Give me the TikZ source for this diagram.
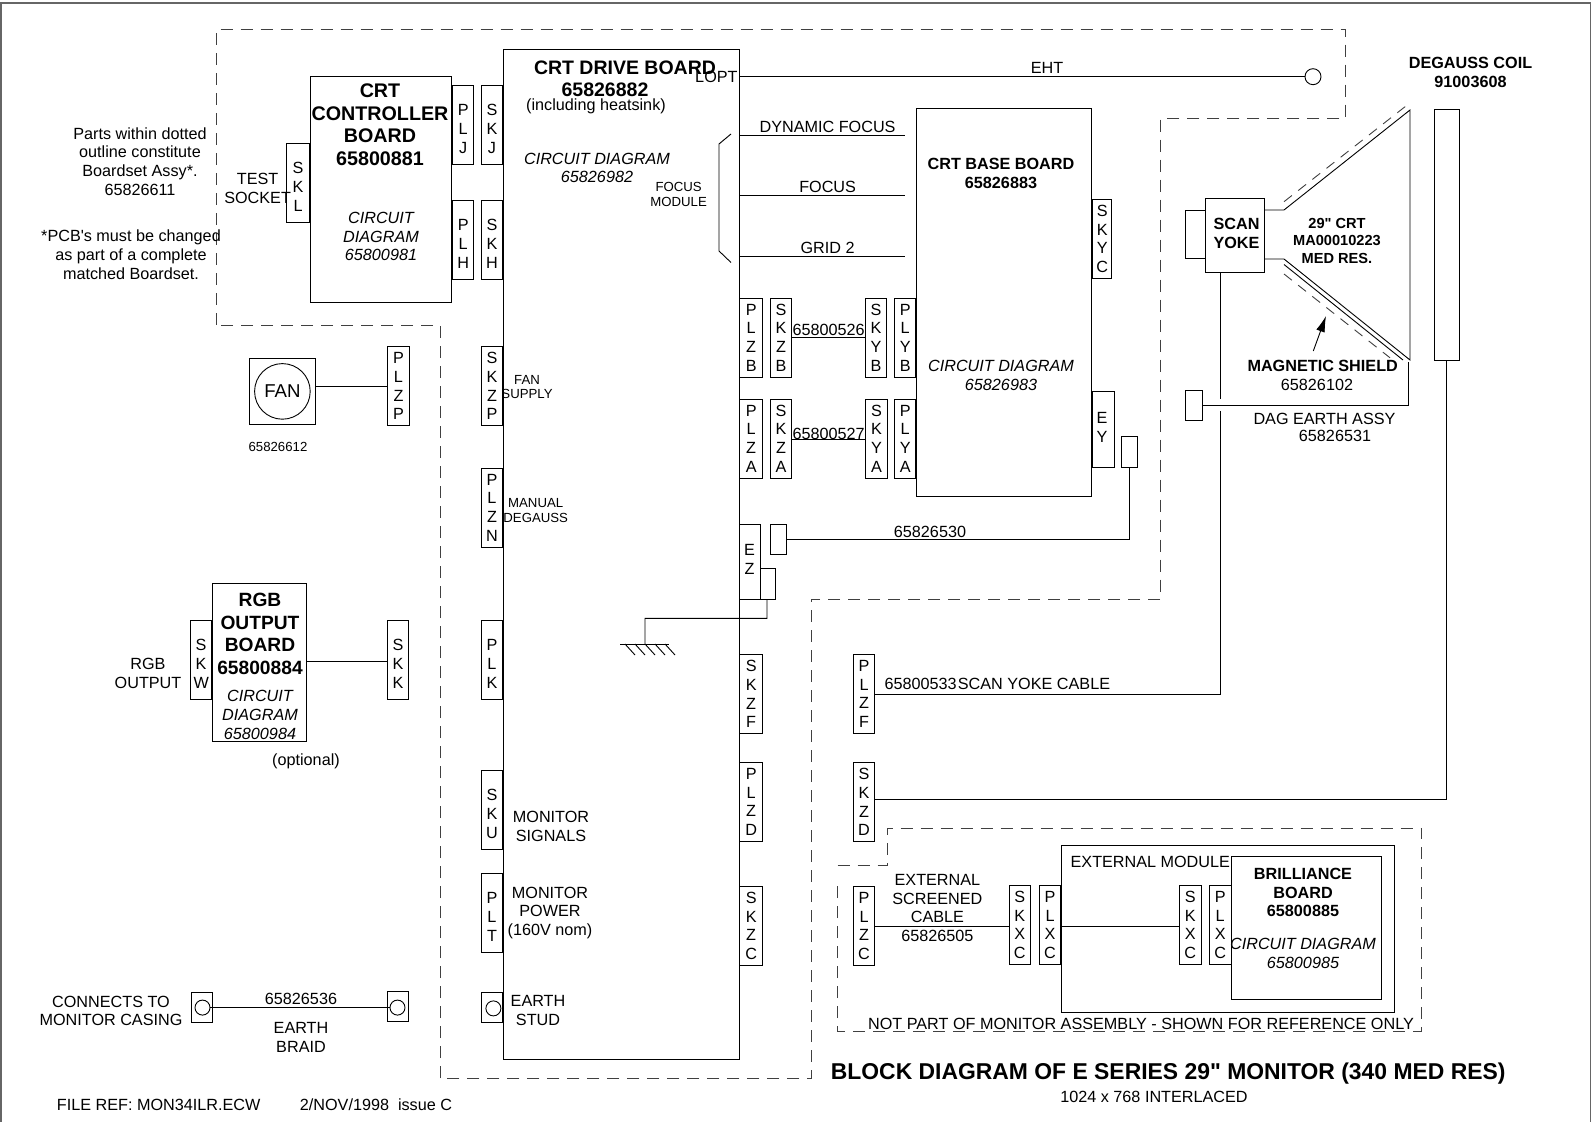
\documentclass[tikz,border=0pt]{standalone}
\usepackage{fontspec}
\setmainfont{Liberation Sans}[Ligatures=TeXOff]
\usetikzlibrary{arrows.meta}

\definecolor{outlinegrey}{gray}{0.25}
\definecolor{framegrey}{gray}{0.4}

\tikzset{
    board/.style={draw, inner sep=0pt},
    pin/.style={draw, inner sep=0pt, minimum width=10.75pt, minimum height=39.5pt,
        align=center, font=\fontsize{8.1}{9.35}\selectfont},
    onleft/.style={anchor=east},
    onright/.style={anchor=west, minimum width=11.25pt},
    stud/.style={draw, inner sep=0pt, minimum width=10.75pt, minimum height=15pt},
    hole/.style={draw, circle, inner sep=0pt, minimum size=7.5pt},
    txt/.style={inner sep=0pt, align=center, font=\fontsize{8.1}{9.35}\selectfont},
    txtit/.style={inner sep=0pt, align=center, font=\fontsize{8.1}{9.35}\itshape\selectfont},
    txtsm/.style={inner sep=0pt, align=center, font=\fontsize{6.6}{7.4}\selectfont},
    head/.style={inner sep=0pt, align=center, font=\fontsize{9.75}{11.25}\bfseries\selectfont},
    subhead/.style={inner sep=0pt, align=center, font=\fontsize{8.1}{9.35}\bfseries\selectfont},
    outline/.style={draw=outlinegrey, dash pattern=on 6pt off 4pt, line width=0.45pt}
}

\begin{document}
\begin{tikzpicture}[x=0.5pt, y=-0.5pt, line width=0.45pt]
    \useasboundingbox (0,0) rectangle (1592,1122);
    \draw[framegrey, line width=0.8pt] (1,1122) -- (1,3) -- (1590.5,3) -- (1590.5,1122);

    % dotted outlines
    \draw[outline] (216,325) -- (216,29.6) -- (1345.5,29.6) -- (1345.5,118.6) -- (1160.5,118.6)
        -- (1160.5,599.4) -- (811,599.4) -- (811,1078.6) -- (440,1078.6) -- (440,325) -- cycle;
    \draw[outline] (837.5,865) -- (887.5,865) -- (887.5,828) -- (1421,828) -- (1421,1031) -- (837.5,1031) -- (837.5,880);

    % boards
    \node[board, minimum width=117.7pt, minimum height=505pt] (drive) at (621.3,554) {};
    \node[board, minimum width=70.5pt, minimum height=112.75pt] (ctrl) at (381,189.25) {};
    \node[board, minimum width=87.5pt, minimum height=194.15pt] (base) at (1004.3,302.45) {};
    \node[board, minimum width=46.9pt, minimum height=79pt] (rgb) at (259.7,662.7) {};
    \node[board, minimum width=166.4pt, minimum height=83.9pt] (extmod) at (1228.1,928.9) {};
    \node[board, minimum width=75pt, minimum height=71.5pt] (bril) at (1306.85,927.5) {};
    \node[board, minimum width=29.5pt, minimum height=37.4pt] (yoke) at (1234.5,235.4) {};
    \node[board, minimum width=12.5pt, minimum height=125.25pt] (coil) at (1446.5,234.75) {};
    \node[board, minimum width=32.75pt, minimum height=33pt] (fanbox) at (282.25,391) {};
    \node[draw, circle, inner sep=0pt, minimum size=27.8pt, font=\fontsize{9.3}{11}\selectfont] (fan) at (282.4,391.4) {FAN};

    % connectors on the boards
    \node[pin, onleft, minimum width=11.5pt] (SKL) at (ctrl.west |- 0,183) {~\\S\\K\\L};
    \node[pin, anchor=west] (PLJ) at (ctrl.east |- 0,125.1) {~\\P\\L\\J};
    \node[pin, onleft] (SKJ) at (drive.west |- 0,125.1) {~\\S\\K\\J};
    \node[pin, anchor=west] (PLH) at (ctrl.east |- 0,240) {~\\P\\L\\H};
    \node[pin, onleft] (SKH) at (drive.west |- 0,240) {~\\S\\K\\H};
    \node[pin] (PLZP) at (398.5,386.2) {P\\L\\Z\\P};
    \node[pin, onleft] (SKZP) at (drive.west |- 0,386.2) {S\\K\\Z\\P};
    \node[pin, onleft] (PLZN) at (drive.west |- 0,507.5) {P\\L\\Z\\N};
    \node[pin, onleft] (SKW) at (rgb.west |- 0,660) {~\\S\\K\\W};
    \node[pin] (SKK) at (398,660) {~\\S\\K\\K};
    \node[pin, onleft] (PLK) at (drive.west |- 0,660) {~\\P\\L\\K};
    \node[pin, onleft] (SKU) at (drive.west |- 0,810.3) {~\\S\\K\\U};
    \node[pin, onleft] (PLT) at (drive.west |- 0,913) {~\\P\\L\\T};
    \node[pin, onright] (PLZB) at (drive.east |- 0,337.5) {P\\L\\Z\\B};
    \node[pin] (SKZB) at (781,337.5) {S\\K\\Z\\B};
    \node[pin, onright] (PLZA) at (drive.east |- 0,438.5) {P\\L\\Z\\A};
    \node[pin] (SKZA) at (781,438.5) {S\\K\\Z\\A};
    \node[pin] (SKYB) at (876,337.5) {S\\K\\Y\\B};
    \node[pin, onleft] (PLYB) at (base.west |- 0,337.5) {P\\L\\Y\\B};
    \node[pin] (SKYA) at (876.5,438.5) {S\\K\\Y\\A};
    \node[pin, onleft] (PLYA) at (base.west |- 0,438.5) {P\\L\\Y\\A};
    \node[pin, anchor=west, minimum width=9.6pt] (SKYC) at (base.east |- 0,239) {S\\K\\Y\\C};
    \node[pin, anchor=west, minimum height=38pt] (EY) at (base.east |- 0,429.4) {};
    \node[pin, anchor=west, minimum width=10.5pt, minimum height=37.5pt] (EZ) at (drive.east |- 0,561.5) {};
    \node[pin, onright] (SKZF) at (drive.east |- 0,694) {S\\K\\Z\\F};
    \node[pin, onright] (PLZD) at (drive.east |- 0,802) {P\\L\\Z\\D};
    \node[pin, onright] (SKZC) at (drive.east |- 0,926) {S\\K\\Z\\C};
    \node[pin] (PLZF) at (864,694) {P\\L\\Z\\F};
    \node[pin] (SKZD) at (864,802) {S\\K\\Z\\D};
    \node[pin] (PLZC) at (864,926) {P\\L\\Z\\C};
    \node[pin] (SKXCa) at (1019.8,925) {S\\K\\X\\C};
    \node[pin, onleft] (PLXCa) at (extmod.west |- 0,925) {P\\L\\X\\C};
    \node[pin] (SKXCb) at (1190.2,925) {S\\K\\X\\C};
    \node[pin, onleft] (PLXCb) at (bril.west |- 0,925) {P\\L\\X\\C};

    % small plugs and studs
    \node[board, minimum width=8pt, minimum height=15.45pt] (plugy) at (1129.5,452) {};
    \node[board, minimum width=8pt, minimum height=15.4pt] (plugz) at (778.8,539.4) {};
    \node[board, minimum width=7.85pt, minimum height=15.5pt] (plugez) at (767.85,583.5) {};
    \node[board, minimum width=8.5pt, minimum height=15pt] (plugdag) at (1194,405.3) {};
    \node[stud] (studa) at (202,1007.8) {};
    \node[stud] (studb) at (398,1006.5) {};
    \node[stud, onleft] (studc) at (drive.west |- 0,1007.8) {};
    \node[hole] (holea) at (202.5,1007.6) {};
    \node[hole] (holeb) at (397.5,1007.6) {};
    \node[hole] (holec) at (493.4,1008.4) {};
    \node[hole, minimum size=8pt] (eht) at (1313,76.7) {};

    % wiring
    \coordinate (lopt) at (739,76.7);
    \draw (lopt) -- (eht.west);
    \draw (drive.east |- 0,135) -- (905,135);
    \draw (drive.east |- 0,195.7) -- (905,195.7);
    \draw (drive.east |- 0,256.4) -- (905,256.4);
    \draw (731,134) -- (719,144) -- (719,251) -- (731,262.5);
    \draw (fanbox.east |- PLZP.west) -- (PLZP.west);
    \draw (rgb.east |- 0,661.8) -- (SKK.west |- 0,661.8);
    \draw (holea.east) -- (holeb.west);
    \draw (SKZB.east |- 0,337.7) -- (SKYB.west |- 0,337.7);
    \draw (SKZA.east |- 0,439.7) -- (SKYA.west |- 0,439.7);
    \draw (plugy.south) |- (plugz.east);
    \draw (plugez.south) ++(-0.85,0) -- ++(0,19) -- (645,618.4) -- (645,644) coordinate (gnd);
    \draw (620,644) -- (669,644);
    \draw (625,644) -- ++(10,11);
    \draw (635,644) -- ++(10,11);
    \draw (645,644) -- ++(10,11);
    \draw (655,644) -- ++(10,11);
    \draw (665,644) -- ++(10,11);
    \draw (yoke.south -| 1220.5,0) -- (1220.5,398.6);
    \draw (1220.5,411) |- (PLZF.east |- 0,694);
    \draw (SKZD.east |- 0,799.8) -| (coil.south);
    \draw (PLZC.east |- 0,926) -- (SKXCa.west |- 0,926);
    \draw (PLXCa.east |- 0,926) -- (SKXCb.west |- 0,926);

    % tube and shield
    \draw (1205,210) -- (1185,210) -- (1185,258) -- (1205,258);
    \draw (1264,210) -- (1284,210) -- (1410,110) -- (1410,360) -- (1284,259) -- (1264,259);
    \draw (1284,264.5) -- (1403,360);
    \draw[outline, dash pattern=on 5pt off 4pt] (1284,201.7) -- (1409,103.6);
    \draw[outline, dash pattern=on 5pt off 4pt] (1284,274) -- (1390,357.8);
    \draw[-{Latex[length=8pt, width=4.5pt]}] (1313.3,351) -- (1326,316);
    \draw (plugdag.east) -- (1408,405.3) -- (1408,362);

    % texts
    \node[head] (drivename) at (625,68) {CRT DRIVE BOARD};
    \node[head] (drivenum) at (605,89.5) {65826882};
    \node[txt] (heatsink) at (596,106.5) {(including heatsink)};
    \node[txt, anchor=east] (lopttxt) at (738,77) {LOPT};
    \node[txtit] (drivecd) at (597,168) {CIRCUIT DIAGRAM\\65826982};
    \node[txtsm] (focusmod) at (678.6,194.5) {FOCUS\\MODULE};
    \node[txtsm] (fansup) at (527,387) {FAN\\SUPPLY};
    \node[txtsm] (mandeg) at (535.7,510.5) {MANUAL\\DEGAUSS};
    \node[txt] (monsig) at (551,826.3) {MONITOR\\SIGNALS};
    \node[txt] (monpow) at (550,913) {MONITOR\\POWER\\(160V nom)};
    \node[txt] (earthstud) at (538,1010.5) {EARTH\\STUD};

    \node[head, font=\fontsize{9.85}{11.25}\bfseries\selectfont] (ctrlname) at (380,124.5) {CRT\\CONTROLLER\\BOARD\\65800881};
    \node[txtit] (ctrlcd) at (381,236.5) {CIRCUIT\\DIAGRAM\\65800981};
    \node[txt] (partstxt) at (140,161.5) {Parts within dotted\\outline constitute\\Boardset Assy*.\\65826611};
    \node[txt] (pcbtxt) at (131,254.6) {*PCB's must be changed\\as part of a complete\\matched Boardset.};
    \node[txt] (testsock) at (257.6,188.5) {TEST\\SOCKET};
    \node[txtsm] (fannum) at (278,447) {65826612};
    \node[txt] (eytxt) at (1102,427.5) {E\\Y};
    \node[txt] (eztxt) at (749.5,559.5) {E\\Z};

    \node[head, font=\fontsize{9.6}{11.25}\bfseries\selectfont] (rgbname) at (260,634) {RGB\\OUTPUT\\BOARD\\65800884};
    \node[txtit] (rgbcd) at (260,715) {CIRCUIT\\DIAGRAM\\65800984};
    \node[txt] (optional) at (306,761.5) {(optional)};
    \node[txt] (rgbout) at (148,673.3) {RGB\\OUTPUT};
    \node[txt] (casing) at (111,1010.8) {CONNECTS TO\\MONITOR CASING};
    \node[txt] (braidnum) at (301,999) {65826536};
    \node[txt] (braid) at (301,1037.3) {EARTH\\BRAID};
    \node[txt] (fileref) at (158.7,1105) {FILE REF: MON34ILR.ECW};
    \node[txt] (issue) at (376,1105) {2/NOV/1998\ \ issue C};

    \node[txt] (ehttxt) at (1047,67.5) {EHT};
    \node[txt] (dynfocus) at (827.6,126.5) {DYNAMIC FOCUS};
    \node[txt] (focustxt) at (827.6,186.6) {FOCUS};
    \node[txt] (gridtxt) at (827.6,248) {GRID 2};
    \node[subhead] (basename) at (1001,173.5) {CRT BASE BOARD\\65826883};
    \node[txtit] (basecd) at (1001,375.3) {CIRCUIT DIAGRAM\\65826983};
    \node[txt] (cablea) at (828.7,330) {65800526};
    \node[txt] (cableb) at (828.7,434) {65800527};
    \node[txt] (cablec) at (930,532) {65826530};
    \node[subhead] (yokename) at (1236.5,233.5) {SCAN\\YOKE};
    \node[subhead, font=\fontsize{7.3}{8.7}\bfseries\selectfont] (crtname) at (1337,240.8) {29" CRT\\MA00010223\\MED RES.};
    \node[subhead] (shieldname) at (1322.7,365.8) {MAGNETIC SHIELD};
    \node[txt] (shieldnum) at (1317,384.7) {65826102};
    \node[txt] (dagname) at (1324.5,418.7) {DAG EARTH ASSY};
    \node[txt] (dagnum) at (1335,435.5) {65826531};
    \node[subhead] (coilname) at (1470.5,72.5) {DEGAUSS COIL\\91003608};

    \node[txt] (yokenum) at (920.7,683.5) {65800533};
    \node[txt] (yokecable) at (1034,683.5) {SCAN YOKE CABLE};
    \node[txt] (extcable) at (937.4,908) {EXTERNAL\\SCREENED\\CABLE\\65826505};
    \node[txt] (extname) at (1150.3,862.4) {EXTERNAL MODULE};
    \node[subhead] (brilname) at (1303,892.5) {BRILLIANCE\\BOARD\\65800885};
    \node[txtit] (brilcd) at (1303,953.5) {CIRCUIT DIAGRAM\\65800985};
    \node[txt] (nottxt) at (1141,1023.5) {NOT PART OF MONITOR ASSEMBLY - SHOWN FOR REFERENCE ONLY};
    \node[head, font=\fontsize{11.45}{13}\bfseries\selectfont] (title) at (1168.2,1074) {BLOCK DIAGRAM OF E SERIES 29" MONITOR (340 MED RES)};
    \node[txt] (subtitle) at (1154,1096.7) {1024 x 768 INTERLACED};
\end{tikzpicture}
\end{document}
